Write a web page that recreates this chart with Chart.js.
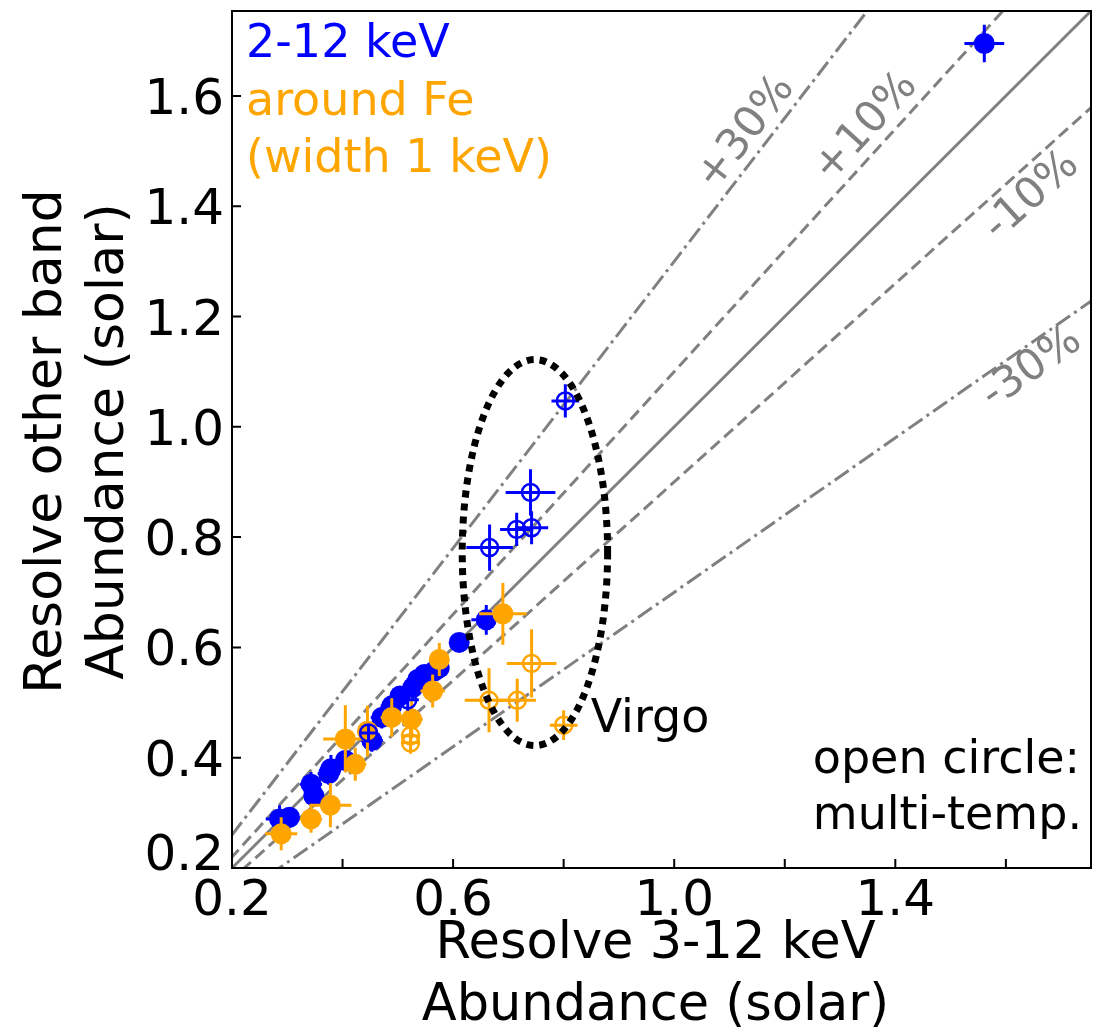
<!DOCTYPE html>
<html><head><meta charset="utf-8">
<script src="https://cdn.jsdelivr.net/npm/chart.js@4/dist/chart.umd.min.js"></script>
<style>html,body{margin:0;padding:0;background:#fff;overflow:hidden;} canvas{display:block;}</style>
</head><body>
<canvas id="c" width="1102" height="1034"></canvas>
<script>
// ---------------- data ----------------
// 2-12 keV, single temperature (filled)
const blueFilledX    = [1.561, 0.660, 0.611, 0.575, 0.566, 0.548, 0.536, 0.527, 0.504, 0.489, 0.471, 0.453, 0.405, 0.379, 0.375, 0.348, 0.343, 0.304, 0.286];
const blueFilledY    = [1.695, 0.650, 0.609, 0.563, 0.557, 0.551, 0.542, 0.527, 0.512, 0.494, 0.473, 0.431, 0.395, 0.380, 0.371, 0.331, 0.352, 0.292, 0.289];
const blueFilledXErr = [0.036, 0.027, 0.010, 0.015, 0.015, 0.015, 0.020, 0.020, 0.015, 0.020, 0.020, 0.020, 0.020, 0.020, 0.020, 0.015, 0.020, 0.015, 0.025];
const blueFilledYErr = [0.034, 0.027, 0.010, 0.015, 0.015, 0.015, 0.020, 0.020, 0.015, 0.020, 0.020, 0.020, 0.020, 0.025, 0.020, 0.015, 0.022, 0.015, 0.025];
// 2-12 keV, multi-temperature (open)
const blueOpenX    = [0.803, 0.740, 0.715, 0.742, 0.666, 0.447, 0.518];
const blueOpenY    = [1.047, 0.881, 0.814, 0.817, 0.781, 0.445, 0.505];
const blueOpenXErr = [0.025, 0.045, 0.030, 0.030, 0.042, 0.015, 0.020];
const blueOpenYErr = [0.030, 0.042, 0.030, 0.030, 0.042, 0.015, 0.020];
// around Fe (width 1 keV), single temperature (filled)
const orangeFilledX    = [0.690, 0.575, 0.563, 0.525, 0.489, 0.445, 0.405, 0.423, 0.378, 0.343, 0.289];
const orangeFilledY    = [0.661, 0.578, 0.521, 0.470, 0.473, 0.448, 0.434, 0.388, 0.314, 0.289, 0.262];
const orangeFilledXErr = [0.043, 0.015, 0.022, 0.020, 0.020, 0.015, 0.040, 0.020, 0.038, 0.020, 0.029];
const orangeFilledYErr = [0.056, 0.030, 0.030, 0.035, 0.035, 0.046, 0.061, 0.030, 0.040, 0.025, 0.030];
// around Fe, multi-temperature (open)
const orangeOpenX    = [0.742, 0.665, 0.716, 0.800, 0.523, 0.523];
const orangeOpenY    = [0.571, 0.504, 0.504, 0.459, 0.440, 0.427];
const orangeOpenXErr = [0.045, 0.044, 0.034, 0.025, 0.015, 0.015];
const orangeOpenYErr = [0.062, 0.058, 0.039, 0.027, 0.020, 0.020];

// reference lines y = k x
const refRatios = [1.0, 1.1, 0.9, 1.3, 0.7];
const refLabels = ['', '+10%', '-10%', '+30%', '-30%'];
const refLabelX = [null, 1.347, 1.647, 1.130, 1.647];
const refLabelY = [null, 1.543, 1.418, 1.533, 1.106];

// axis ticks
const axisMin = 0.2, axisMax = 1.754;
const xTicks = [0.2, 0.4, 0.6, 0.8, 1.0, 1.2, 1.4, 1.6];
const xTickLabels = ['0.2', '', '0.6', '', '1.0', '', '1.4', ''];
const yTicks = [0.2, 0.4, 0.6, 0.8, 1.0, 1.2, 1.4, 1.6];
const yTickLabels = ['0.2', '0.4', '0.6', '0.8', '1.0', '1.2', '1.4', '1.6'];

// highlighted region (ellipse, data units)
const ellipseCenter = [0.748, 0.772];
const ellipseRadii = [0.1315, 0.350];

// ---------------- chart ----------------
const BLUE = '#0000ff', ORANGE = '#ffa500', GRAY = '#808080';
const FONT = '"DejaVu Sans", Verdana, sans-serif';
const pts = (xs, ys) => xs.map((x, i) => ({x: x, y: ys[i]}));

const datasets = [];
const errSets = [];
function addPoints(label, xs, ys, xe, ye, color, open, order) {
  datasets.push({
    label: label, data: pts(xs, ys), showLine: false, order: order,
    pointRadius: open ? 8.5 : 10.5, pointHoverRadius: open ? 8.5 : 10.5,
    pointBackgroundColor: open ? 'rgba(0,0,0,0)' : color,
    pointBorderColor: color, pointBorderWidth: open ? 2.5 : 0
  });
  errSets.push({x: xs, y: ys, xe: xe, ye: ye, color: color});
}
addPoints('2-12 keV open', blueOpenX, blueOpenY, blueOpenXErr, blueOpenYErr, BLUE, true, 2);
addPoints('around Fe open', orangeOpenX, orangeOpenY, orangeOpenXErr, orangeOpenYErr, ORANGE, true, 1);
addPoints('around Fe', orangeFilledX, orangeFilledY, orangeFilledXErr, orangeFilledYErr, ORANGE, false, 3);
addPoints('2-12 keV', blueFilledX, blueFilledY, blueFilledXErr, blueFilledYErr, BLUE, false, 4);

refRatios.forEach((k, i) => {
  const dash = (k === 1) ? [] : (Math.abs(k - 1) < 0.2 ? [12, 6] : [17, 5, 3, 5]);
  datasets.push({
    label: 'y=' + k + 'x', showLine: true, order: 10, clip: 0,
    data: [{x: 0.0, y: 0.0}, {x: 2.0, y: 2.0 * k}],
    borderColor: GRAY, borderWidth: 3, borderDash: dash, pointRadius: 0, fill: false
  });
  errSets.push(null);
});

function pxPerUnit(chart) {
  const xs = chart.scales.x, ys = chart.scales.y;
  return [xs.getPixelForValue(1) - xs.getPixelForValue(0), ys.getPixelForValue(0) - ys.getPixelForValue(1)];
}

const overlay = {
  id: 'overlay',
  beforeDatasetDraw(chart, args) {
    const eb = errSets[args.index];
    if (!eb) return;
    const ctx = chart.ctx, xs = chart.scales.x, ys = chart.scales.y, a = chart.chartArea;
    ctx.save();
    ctx.beginPath(); ctx.rect(a.left, a.top, a.right - a.left, a.bottom - a.top); ctx.clip();
    ctx.strokeStyle = eb.color; ctx.lineWidth = 3; ctx.lineCap = 'butt';
    for (let i = 0; i < eb.x.length; i++) {
      const px = xs.getPixelForValue(eb.x[i]), py = ys.getPixelForValue(eb.y[i]);
      const x0 = xs.getPixelForValue(eb.x[i] - eb.xe[i]), x1 = xs.getPixelForValue(eb.x[i] + eb.xe[i]);
      const y0 = ys.getPixelForValue(eb.y[i] - eb.ye[i]), y1 = ys.getPixelForValue(eb.y[i] + eb.ye[i]);
      ctx.beginPath();
      ctx.moveTo(x0, py); ctx.lineTo(x1, py);
      ctx.moveTo(px, y0); ctx.lineTo(px, y1);
      ctx.stroke();
    }
    ctx.restore();
  },
  afterDatasetsDraw(chart) {
    const ctx = chart.ctx, xs = chart.scales.x, ys = chart.scales.y, a = chart.chartArea;
    const ppu = pxPerUnit(chart);
    ctx.save();
    // ellipse
    ctx.beginPath();
    ctx.ellipse(xs.getPixelForValue(ellipseCenter[0]), ys.getPixelForValue(ellipseCenter[1]),
      ellipseRadii[0] * ppu[0], ellipseRadii[1] * ppu[1], 0, 0, Math.PI * 2);
    ctx.strokeStyle = '#000'; ctx.lineWidth = 7; ctx.setLineDash([7, 6]); ctx.stroke();
    ctx.setLineDash([]);
    // percentage labels
    ctx.fillStyle = GRAY; ctx.font = '43px ' + FONT; ctx.textAlign = 'center'; ctx.textBaseline = 'middle';
    refRatios.forEach((k, i) => {
      if (!refLabels[i]) return;
      const ang = Math.atan(k * ppu[1] / ppu[0]);
      ctx.save();
      ctx.translate(xs.getPixelForValue(refLabelX[i]), ys.getPixelForValue(refLabelY[i]));
      ctx.rotate(-ang);
      ctx.fillText(refLabels[i], 0, 0);
      ctx.restore();
    });
    // frame
    ctx.strokeStyle = '#000'; ctx.lineWidth = 2;
    ctx.strokeRect(a.left, a.top, a.right - a.left, a.bottom - a.top);
    // ticks (inward)
    ctx.lineWidth = 2;
    ctx.beginPath();
    xTicks.forEach(v => { const p = xs.getPixelForValue(v); ctx.moveTo(p, a.bottom); ctx.lineTo(p, a.bottom - 9); });
    yTicks.forEach(v => { const p = ys.getPixelForValue(v); ctx.moveTo(a.left, p); ctx.lineTo(a.left + 9, p); });
    ctx.stroke();
    // tick labels
    ctx.fillStyle = '#000'; ctx.font = '50px ' + FONT; ctx.textBaseline = 'alphabetic';
    ctx.textAlign = 'center';
    xTicks.forEach((v, i) => { if (xTickLabels[i]) ctx.fillText(xTickLabels[i], xs.getPixelForValue(v), a.bottom + 47); });
    ctx.textAlign = 'right';
    yTicks.forEach((v, i) => {
      const p = Math.min(ys.getPixelForValue(v), a.bottom - 16);
      ctx.fillText(yTickLabels[i], a.left - 8, p + 18);
    });
    // axis titles
    ctx.textAlign = 'center';
    ctx.font = '51px ' + FONT;
    const cx = (a.left + a.right) / 2 - 6;
    ctx.fillText('Resolve 3-12 keV', cx, a.bottom + 90);
    ctx.fillText('Abundance (solar)', cx, a.bottom + 152);
    ctx.save();
    ctx.translate(0, (a.top + a.bottom) / 2 + 2);
    ctx.rotate(-Math.PI / 2);
    ctx.font = '52px ' + FONT;
    ctx.fillText('Resolve other band', 0, 61);
    ctx.fillText('Abundance (solar)', 0, 123);
    ctx.restore();
    // legend texts
    ctx.textAlign = 'left'; ctx.font = '46px ' + FONT;
    ctx.fillStyle = BLUE; ctx.fillText('2-12 keV', a.left + 14, 57);
    ctx.fillStyle = ORANGE; ctx.fillText('around Fe', a.left + 14, 115);
    ctx.fillText('(width 1 keV)', a.left + 14, 172);
    // notes
    ctx.fillStyle = '#000';
    ctx.fillText('Virgo', xs.getPixelForValue(0.800) + 27, ys.getPixelForValue(0.459) + 7);
    ctx.textAlign = 'right';
    ctx.fillText('open circle:', a.right - 11, 773);
    ctx.fillText('multi-temp.', a.right - 9, 829);
    ctx.restore();
  }
};

Chart.defaults.font.family = FONT;
new Chart(document.getElementById('c'), {
  type: 'scatter',
  data: {datasets: datasets},
  options: {
    responsive: false, animation: false, devicePixelRatio: 1,
    layout: {padding: {left: 232, top: 7, right: 3, bottom: 166}},
    plugins: {legend: {display: false}, tooltip: {enabled: false}},
    scales: {
      x: {type: 'linear', min: axisMin, max: axisMax, display: false},
      y: {type: 'linear', min: axisMin, max: axisMax, display: false}
    }
  },
  plugins: [overlay]
});
</script>
</body></html>
